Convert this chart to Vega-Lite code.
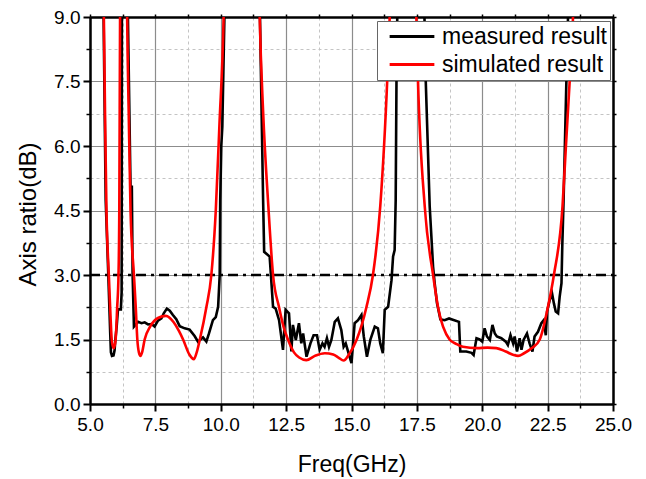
{
  "$schema": "https://vega.github.io/schema/vega-lite/v6.json",
  "width": 523,
  "height": 387,
  "autosize": {"type": "none"},
  "padding": {"left": 90, "top": 17, "right": 33, "bottom": 75},
  "background": "white",
  "config": {
    "view": {"stroke": null},
    "font": "Liberation Sans",
    "axis": {"labelFont": "Liberation Sans", "titleFont": "Liberation Sans", "labelColor": "black", "titleColor": "black", "titleFontWeight": "normal", "tickColor": "black", "domainColor": "black", "labelFlush": false, "labelOverlap": false}
  },
  "datasets": {
    "ref": [{"x0": 5, "x1": 25, "y": 3}],
    "curves": [
      {"s": "measured result", "f": 5.45, "v": 12},
      {"s": "measured result", "f": 5.52, "v": 9.0},
      {"s": "measured result", "f": 5.6, "v": 4.74},
      {"s": "measured result", "f": 5.7, "v": 3.0},
      {"s": "measured result", "f": 5.77, "v": 1.7},
      {"s": "measured result", "f": 5.8, "v": 1.2},
      {"s": "measured result", "f": 5.84, "v": 1.12},
      {"s": "measured result", "f": 5.9, "v": 1.13},
      {"s": "measured result", "f": 5.94, "v": 1.25},
      {"s": "measured result", "f": 5.97, "v": 1.5},
      {"s": "measured result", "f": 6.02, "v": 1.8},
      {"s": "measured result", "f": 6.07, "v": 2.2},
      {"s": "measured result", "f": 6.18, "v": 2.2},
      {"s": "measured result", "f": 6.21, "v": 2.6},
      {"s": "measured result", "f": 6.22, "v": 9.0},
      {"s": "measured result", "f": 6.26, "v": 12},
      {"s": "measured result", "f": 6.42, "v": 12},
      {"s": "measured result", "f": 6.45, "v": 9.0},
      {"s": "measured result", "f": 6.55, "v": 5.05},
      {"s": "measured result", "f": 6.6, "v": 5.05},
      {"s": "measured result", "f": 6.63, "v": 3.0},
      {"s": "measured result", "f": 6.68, "v": 1.8},
      {"s": "measured result", "f": 6.84, "v": 1.91},
      {"s": "measured result", "f": 6.97, "v": 1.88},
      {"s": "measured result", "f": 7.09, "v": 1.9},
      {"s": "measured result", "f": 7.22, "v": 1.85},
      {"s": "measured result", "f": 7.35, "v": 1.86},
      {"s": "measured result", "f": 7.47, "v": 1.8},
      {"s": "measured result", "f": 7.6, "v": 1.94},
      {"s": "measured result", "f": 7.73, "v": 1.99},
      {"s": "measured result", "f": 7.82, "v": 2.11},
      {"s": "measured result", "f": 7.94, "v": 2.22},
      {"s": "measured result", "f": 8.05, "v": 2.17},
      {"s": "measured result", "f": 8.17, "v": 2.07},
      {"s": "measured result", "f": 8.3, "v": 1.97},
      {"s": "measured result", "f": 8.43, "v": 1.81},
      {"s": "measured result", "f": 8.62, "v": 1.76},
      {"s": "measured result", "f": 8.81, "v": 1.73},
      {"s": "measured result", "f": 9.0, "v": 1.58},
      {"s": "measured result", "f": 9.13, "v": 1.45},
      {"s": "measured result", "f": 9.32, "v": 1.55},
      {"s": "measured result", "f": 9.45, "v": 1.45},
      {"s": "measured result", "f": 9.55, "v": 1.64},
      {"s": "measured result", "f": 9.7, "v": 1.95},
      {"s": "measured result", "f": 9.81, "v": 2.02},
      {"s": "measured result", "f": 9.9, "v": 2.26},
      {"s": "measured result", "f": 9.96, "v": 3.0},
      {"s": "measured result", "f": 9.98, "v": 4.74},
      {"s": "measured result", "f": 10.02, "v": 6.0},
      {"s": "measured result", "f": 10.06, "v": 6.45},
      {"s": "measured result", "f": 10.14, "v": 9.0},
      {"s": "measured result", "f": 10.2, "v": 12},
      {"s": "measured result", "f": 11.45, "v": 12},
      {"s": "measured result", "f": 11.5, "v": 9.0},
      {"s": "measured result", "f": 11.62, "v": 4.74},
      {"s": "measured result", "f": 11.66, "v": 3.54},
      {"s": "measured result", "f": 11.87, "v": 3.43},
      {"s": "measured result", "f": 12.0, "v": 2.26},
      {"s": "measured result", "f": 12.1, "v": 2.22},
      {"s": "measured result", "f": 12.23, "v": 1.95},
      {"s": "measured result", "f": 12.38, "v": 1.26},
      {"s": "measured result", "f": 12.48, "v": 2.19},
      {"s": "measured result", "f": 12.61, "v": 2.11},
      {"s": "measured result", "f": 12.7, "v": 1.22},
      {"s": "measured result", "f": 12.76, "v": 1.84},
      {"s": "measured result", "f": 12.87, "v": 1.49},
      {"s": "measured result", "f": 12.99, "v": 1.88},
      {"s": "measured result", "f": 13.08, "v": 1.41},
      {"s": "measured result", "f": 13.15, "v": 1.64},
      {"s": "measured result", "f": 13.28, "v": 1.1},
      {"s": "measured result", "f": 13.43, "v": 1.41},
      {"s": "measured result", "f": 13.55, "v": 1.6},
      {"s": "measured result", "f": 13.68, "v": 1.6},
      {"s": "measured result", "f": 13.78, "v": 1.26},
      {"s": "measured result", "f": 13.89, "v": 1.41},
      {"s": "measured result", "f": 13.97, "v": 1.33},
      {"s": "measured result", "f": 14.06, "v": 1.53},
      {"s": "measured result", "f": 14.14, "v": 1.33},
      {"s": "measured result", "f": 14.23, "v": 1.49},
      {"s": "measured result", "f": 14.36, "v": 1.91},
      {"s": "measured result", "f": 14.48, "v": 1.99},
      {"s": "measured result", "f": 14.61, "v": 1.72},
      {"s": "measured result", "f": 14.7, "v": 1.33},
      {"s": "measured result", "f": 14.78, "v": 1.41},
      {"s": "measured result", "f": 14.87, "v": 1.22},
      {"s": "measured result", "f": 15.0, "v": 0.95},
      {"s": "measured result", "f": 15.12, "v": 1.88},
      {"s": "measured result", "f": 15.25, "v": 1.95},
      {"s": "measured result", "f": 15.38, "v": 2.07},
      {"s": "measured result", "f": 15.47, "v": 1.57},
      {"s": "measured result", "f": 15.59, "v": 1.1},
      {"s": "measured result", "f": 15.72, "v": 1.49},
      {"s": "measured result", "f": 15.89, "v": 1.8},
      {"s": "measured result", "f": 16.01, "v": 1.76},
      {"s": "measured result", "f": 16.1, "v": 1.41},
      {"s": "measured result", "f": 16.2, "v": 1.18},
      {"s": "measured result", "f": 16.27, "v": 2.19},
      {"s": "measured result", "f": 16.4, "v": 2.26},
      {"s": "measured result", "f": 16.53, "v": 2.88},
      {"s": "measured result", "f": 16.59, "v": 3.43},
      {"s": "measured result", "f": 16.65, "v": 3.58},
      {"s": "measured result", "f": 16.69, "v": 4.74},
      {"s": "measured result", "f": 16.72, "v": 7.5},
      {"s": "measured result", "f": 16.75, "v": 9.0},
      {"s": "measured result", "f": 16.8, "v": 12},
      {"s": "measured result", "f": 17.72, "v": 12},
      {"s": "measured result", "f": 17.79, "v": 9.0},
      {"s": "measured result", "f": 17.84, "v": 7.5},
      {"s": "measured result", "f": 17.99, "v": 4.6},
      {"s": "measured result", "f": 18.12, "v": 3.19},
      {"s": "measured result", "f": 18.18, "v": 2.81},
      {"s": "measured result", "f": 18.27, "v": 2.34},
      {"s": "measured result", "f": 18.4, "v": 1.97},
      {"s": "measured result", "f": 18.56, "v": 1.95},
      {"s": "measured result", "f": 18.73, "v": 1.99},
      {"s": "measured result", "f": 19.11, "v": 1.91},
      {"s": "measured result", "f": 19.16, "v": 1.22},
      {"s": "measured result", "f": 19.39, "v": 1.22},
      {"s": "measured result", "f": 19.59, "v": 1.19},
      {"s": "measured result", "f": 19.67, "v": 1.14},
      {"s": "measured result", "f": 19.78, "v": 1.53},
      {"s": "measured result", "f": 19.9, "v": 1.5},
      {"s": "measured result", "f": 20.0, "v": 1.45},
      {"s": "measured result", "f": 20.09, "v": 1.76},
      {"s": "measured result", "f": 20.18, "v": 1.57},
      {"s": "measured result", "f": 20.29, "v": 1.49},
      {"s": "measured result", "f": 20.39, "v": 1.84},
      {"s": "measured result", "f": 20.48, "v": 1.64},
      {"s": "measured result", "f": 20.56, "v": 1.57},
      {"s": "measured result", "f": 20.73, "v": 1.53},
      {"s": "measured result", "f": 20.9, "v": 1.45},
      {"s": "measured result", "f": 20.98, "v": 1.37},
      {"s": "measured result", "f": 21.08, "v": 1.6},
      {"s": "measured result", "f": 21.18, "v": 1.41},
      {"s": "measured result", "f": 21.24, "v": 1.57},
      {"s": "measured result", "f": 21.33, "v": 1.22},
      {"s": "measured result", "f": 21.43, "v": 1.53},
      {"s": "measured result", "f": 21.5, "v": 1.26},
      {"s": "measured result", "f": 21.58, "v": 1.49},
      {"s": "measured result", "f": 21.71, "v": 1.64},
      {"s": "measured result", "f": 21.81, "v": 1.41},
      {"s": "measured result", "f": 21.92, "v": 1.22},
      {"s": "measured result", "f": 22.0, "v": 1.57},
      {"s": "measured result", "f": 22.13, "v": 1.68},
      {"s": "measured result", "f": 22.26, "v": 1.88},
      {"s": "measured result", "f": 22.35, "v": 1.95},
      {"s": "measured result", "f": 22.43, "v": 1.6},
      {"s": "measured result", "f": 22.48, "v": 2.15},
      {"s": "measured result", "f": 22.58, "v": 2.42},
      {"s": "measured result", "f": 22.67, "v": 2.57},
      {"s": "measured result", "f": 22.74, "v": 2.34},
      {"s": "measured result", "f": 22.81, "v": 2.15},
      {"s": "measured result", "f": 22.9, "v": 2.11},
      {"s": "measured result", "f": 22.96, "v": 2.49},
      {"s": "measured result", "f": 23.03, "v": 2.81},
      {"s": "measured result", "f": 23.06, "v": 3.66},
      {"s": "measured result", "f": 23.11, "v": 4.74},
      {"s": "measured result", "f": 23.22, "v": 7.58},
      {"s": "measured result", "f": 23.28, "v": 9.0},
      {"s": "measured result", "f": 23.35, "v": 12},
      {"s": "simulated result", "f": 5.45, "v": 12},
      {"s": "simulated result", "f": 5.53, "v": 9.0},
      {"s": "simulated result", "f": 5.58, "v": 6.5},
      {"s": "simulated result", "f": 5.63, "v": 4.5},
      {"s": "simulated result", "f": 5.72, "v": 3.0},
      {"s": "simulated result", "f": 5.77, "v": 2.25},
      {"s": "simulated result", "f": 5.83, "v": 1.5},
      {"s": "simulated result", "f": 5.88, "v": 1.33},
      {"s": "simulated result", "f": 5.91, "v": 1.3},
      {"s": "simulated result", "f": 5.94, "v": 1.35},
      {"s": "simulated result", "f": 5.98, "v": 1.5},
      {"s": "simulated result", "f": 6.04, "v": 2.25},
      {"s": "simulated result", "f": 6.09, "v": 3.0},
      {"s": "simulated result", "f": 6.12, "v": 4.5},
      {"s": "simulated result", "f": 6.15, "v": 9.0},
      {"s": "simulated result", "f": 6.2, "v": 12},
      {"s": "simulated result", "f": 6.38, "v": 12},
      {"s": "simulated result", "f": 6.42, "v": 9.0},
      {"s": "simulated result", "f": 6.48, "v": 6.8},
      {"s": "simulated result", "f": 6.55, "v": 4.5},
      {"s": "simulated result", "f": 6.68, "v": 3.0},
      {"s": "simulated result", "f": 6.75, "v": 2.25},
      {"s": "simulated result", "f": 6.81, "v": 1.5},
      {"s": "simulated result", "f": 6.87, "v": 1.2},
      {"s": "simulated result", "f": 6.93, "v": 1.12},
      {"s": "simulated result", "f": 7.0, "v": 1.22},
      {"s": "simulated result", "f": 7.09, "v": 1.5},
      {"s": "simulated result", "f": 7.3, "v": 1.8},
      {"s": "simulated result", "f": 7.6, "v": 2.0},
      {"s": "simulated result", "f": 7.9, "v": 2.05},
      {"s": "simulated result", "f": 8.2, "v": 1.9},
      {"s": "simulated result", "f": 8.4, "v": 1.7},
      {"s": "simulated result", "f": 8.56, "v": 1.5},
      {"s": "simulated result", "f": 8.8, "v": 1.15},
      {"s": "simulated result", "f": 8.97, "v": 1.04},
      {"s": "simulated result", "f": 9.08, "v": 1.2},
      {"s": "simulated result", "f": 9.2, "v": 1.5},
      {"s": "simulated result", "f": 9.45, "v": 2.25},
      {"s": "simulated result", "f": 9.64, "v": 3.0},
      {"s": "simulated result", "f": 9.81, "v": 4.5},
      {"s": "simulated result", "f": 9.95, "v": 6.5},
      {"s": "simulated result", "f": 10.11, "v": 9.0},
      {"s": "simulated result", "f": 10.2, "v": 12},
      {"s": "simulated result", "f": 11.4, "v": 12},
      {"s": "simulated result", "f": 11.49, "v": 9.0},
      {"s": "simulated result", "f": 11.62, "v": 6.8},
      {"s": "simulated result", "f": 11.82, "v": 4.6},
      {"s": "simulated result", "f": 12.0, "v": 3.0},
      {"s": "simulated result", "f": 12.23, "v": 2.25},
      {"s": "simulated result", "f": 12.4, "v": 1.8},
      {"s": "simulated result", "f": 12.57, "v": 1.5},
      {"s": "simulated result", "f": 12.8, "v": 1.2},
      {"s": "simulated result", "f": 13.0, "v": 1.08},
      {"s": "simulated result", "f": 13.27, "v": 1.02},
      {"s": "simulated result", "f": 13.6, "v": 1.12},
      {"s": "simulated result", "f": 13.98, "v": 1.18},
      {"s": "simulated result", "f": 14.3, "v": 1.15},
      {"s": "simulated result", "f": 14.5, "v": 1.08},
      {"s": "simulated result", "f": 14.7, "v": 1.01},
      {"s": "simulated result", "f": 14.9, "v": 1.15},
      {"s": "simulated result", "f": 15.2, "v": 1.5},
      {"s": "simulated result", "f": 15.57, "v": 2.25},
      {"s": "simulated result", "f": 15.82, "v": 3.0},
      {"s": "simulated result", "f": 16.1, "v": 4.6},
      {"s": "simulated result", "f": 16.37, "v": 7.58},
      {"s": "simulated result", "f": 16.46, "v": 9.0},
      {"s": "simulated result", "f": 16.55, "v": 12},
      {"s": "simulated result", "f": 17.4, "v": 12},
      {"s": "simulated result", "f": 17.48, "v": 9.0},
      {"s": "simulated result", "f": 17.54, "v": 7.58},
      {"s": "simulated result", "f": 17.8, "v": 4.6},
      {"s": "simulated result", "f": 18.12, "v": 3.0},
      {"s": "simulated result", "f": 18.31, "v": 2.25},
      {"s": "simulated result", "f": 18.75, "v": 1.5},
      {"s": "simulated result", "f": 19.0, "v": 1.4},
      {"s": "simulated result", "f": 19.26, "v": 1.33},
      {"s": "simulated result", "f": 19.8, "v": 1.3},
      {"s": "simulated result", "f": 20.2, "v": 1.31},
      {"s": "simulated result", "f": 20.54, "v": 1.3},
      {"s": "simulated result", "f": 20.9, "v": 1.22},
      {"s": "simulated result", "f": 21.2, "v": 1.14},
      {"s": "simulated result", "f": 21.37, "v": 1.12},
      {"s": "simulated result", "f": 21.6, "v": 1.18},
      {"s": "simulated result", "f": 21.9, "v": 1.3},
      {"s": "simulated result", "f": 22.2, "v": 1.5},
      {"s": "simulated result", "f": 22.51, "v": 2.25},
      {"s": "simulated result", "f": 22.74, "v": 3.0},
      {"s": "simulated result", "f": 23.07, "v": 4.6},
      {"s": "simulated result", "f": 23.2, "v": 6.0},
      {"s": "simulated result", "f": 23.35, "v": 7.58},
      {"s": "simulated result", "f": 23.47, "v": 9.0},
      {"s": "simulated result", "f": 23.55, "v": 12}
    ]
  },
  "resolve": {"axis": {"x": "independent", "y": "independent"}},
  "layer": [
    {
      "data": {"name": "ref"},
      "mark": {"type": "rule", "color": "black", "strokeWidth": 2.5, "strokeDash": [10, 5, 3, 5]},
      "encoding": {
        "x": {"field": "x0", "type": "quantitative", "scale": {"domain": [5, 25], "nice": false, "zero": false},
          "axis": {"orient": "bottom", "values": [6.25, 8.75, 11.25, 13.75, 16.25, 18.75, 21.25, 23.75], "labels": false, "domain": false, "title": null, "grid": true, "gridColor": "#c4c4c4", "gridDash": [3, 3], "gridWidth": 1, "ticks": true, "tickSize": 4, "tickWidth": 1.5}},
        "x2": {"field": "x1"},
        "y": {"field": "y", "type": "quantitative", "scale": {"domain": [0, 9], "nice": false, "zero": false},
          "axis": {"orient": "left", "values": [0.75, 2.25, 3.75, 5.25, 6.75, 8.25], "labels": false, "domain": false, "title": null, "grid": true, "gridColor": "#c4c4c4", "gridDash": [3, 3], "gridWidth": 1, "ticks": true, "tickSize": 4, "tickWidth": 1.5}}
      }
    },
    {
      "data": {"name": "ref"},
      "mark": {"type": "rule", "strokeOpacity": 0},
      "encoding": {
        "x": {"field": "x0", "type": "quantitative", "scale": {"domain": [5, 25], "nice": false, "zero": false},
          "axis": {"orient": "top", "values": [5, 6.25, 7.5, 8.75, 10, 11.25, 12.5, 13.75, 15, 16.25, 17.5, 18.75, 20, 21.25, 22.5, 23.75, 25], "labels": false, "title": null, "grid": false, "domain": true, "domainWidth": 2.5, "ticks": true, "tickSize": 3, "tickWidth": 1.5}},
        "x2": {"field": "x1"},
        "y": {"field": "y", "type": "quantitative", "scale": {"domain": [0, 9], "nice": false, "zero": false},
          "axis": {"orient": "right", "values": [0, 0.75, 1.5, 2.25, 3, 3.75, 4.5, 5.25, 6, 6.75, 7.5, 8.25, 9], "labels": false, "title": null, "grid": false, "domain": true, "domainWidth": 2.5, "ticks": true, "tickSize": 3, "tickWidth": 1.5}}
      }
    },
    {
      "data": {"name": "curves"},
      "transform": [{"filter": "datum.s === 'measured result'"}],
      "mark": {"type": "line", "strokeWidth": 2.6, "clip": true},
      "encoding": {
        "x": {"field": "f", "type": "quantitative", "scale": {"domain": [5, 25], "nice": false, "zero": false},
          "axis": {"orient": "bottom", "values": [5, 7.5, 10, 12.5, 15, 17.5, 20, 22.5, 25], "format": ".1f", "grid": true, "gridColor": "#8c8c8c", "gridWidth": 1.2, "domain": true, "domainWidth": 2.5, "tickSize": 7, "tickWidth": 2, "labelFontSize": 19, "labelPadding": 4, "title": "Freq(GHz)", "titleFontSize": 23, "titleBaseline": "middle", "titleY": 60}},
        "y": {"field": "v", "type": "quantitative", "scale": {"domain": [0, 9], "nice": false, "zero": false},
          "axis": {"orient": "left", "values": [0, 1.5, 3, 4.5, 6, 7.5, 9], "format": ".1f", "grid": true, "gridColor": "#8c8c8c", "gridWidth": 1.2, "domain": true, "domainWidth": 2.5, "tickSize": 7, "tickWidth": 2, "labelFontSize": 19, "labelPadding": 3, "title": "Axis ratio(dB)", "titleFontSize": 24, "titleBaseline": "middle", "titleAngle": -90, "titleX": -62, "titleY": 197}},
        "color": {"field": "s", "type": "nominal",
          "scale": {"domain": ["measured result", "simulated result"], "range": ["#000000", "#ff0000"]},
          "legend": {"title": null, "orient": "none", "legendX": 287, "legendY": 4, "symbolType": "stroke", "symbolSize": 2000, "symbolStrokeWidth": 3, "symbolOffset": 8, "labelFontSize": 23, "labelFont": "Liberation Sans", "labelColor": "black", "labelLimit": 400, "fillColor": "white", "strokeColor": "#666666", "padding": 3, "rowPadding": 3, "clipHeight": 25, "labelOffset": 6}}
      }
    },
    {
      "data": {"name": "curves"},
      "transform": [{"filter": "datum.s === 'simulated result'"}],
      "mark": {"type": "line", "strokeWidth": 2.6, "clip": true, "interpolate": "monotone"},
      "encoding": {
        "x": {"field": "f", "type": "quantitative", "scale": {"domain": [5, 25], "nice": false, "zero": false}, "axis": null},
        "y": {"field": "v", "type": "quantitative", "scale": {"domain": [0, 9], "nice": false, "zero": false}, "axis": null},
        "color": {"field": "s", "type": "nominal",
          "scale": {"domain": ["measured result", "simulated result"], "range": ["#000000", "#ff0000"]}}
      }
    }
  ]
}
